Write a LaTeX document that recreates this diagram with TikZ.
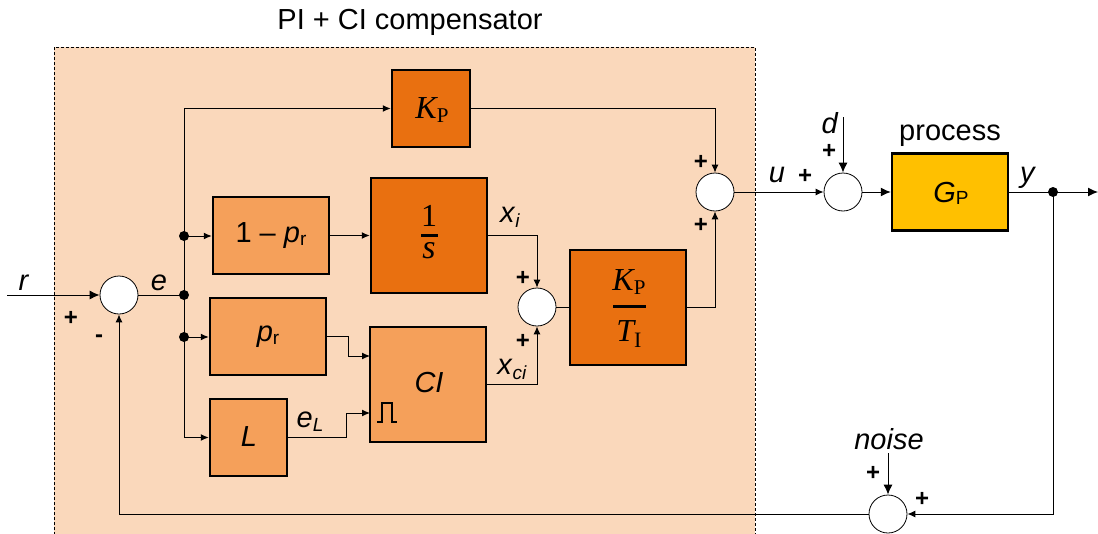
\documentclass[tikz,border=0pt]{standalone}
\usepackage{fontspec}
\setmainfont{Liberation Sans}
\newfontfamily\seriffam{Liberation Serif}
\usetikzlibrary{arrows.meta,calc}
\newcommand\lbl{\fontsize{29}{34}\selectfont}
\newcommand\subsz{\fontsize{19}{19}\selectfont}
\newcommand\plsz{\fontsize{24}{24}\selectfont\bfseries}
\definecolor{peach}{RGB}{250,216,187}
\definecolor{dorange}{RGB}{233,112,16}
\definecolor{lorange}{RGB}{245,160,90}
\definecolor{procc}{RGB}{255,192,0}
\begin{document}
\begin{tikzpicture}[x=1pt,y=-1pt,
  blk/.style={draw, line width=2.5pt, inner sep=0, minimum width=116pt, minimum height=77pt},
  dark/.style={blk, fill=dorange},
  light/.style={blk, fill=lorange},
  sumn/.style={circle, draw, line width=0.8pt, fill=white, minimum size=38pt, inner sep=0},
  conn/.style={line width=1pt},
  arr/.style={conn, -{Latex[length=8pt,width=7pt]}},
  bigarr/.style={conn, -{Latex[length=10pt,width=9pt]}},
  jdot/.style={circle, fill=black, minimum size=10pt, inner sep=0},
  txt/.style={inner sep=0, font=\lbl},
  pl/.style={inner sep=0, font=\plsz},
  fbar/.style={fill=black, inner sep=0, minimum height=3pt}]
\useasboundingbox (0,0) rectangle (1098,533);
\clip (0,0) rectangle (1098,533);
% compensator area
\fill[peach] (54,47) rectangle (755,545);
\draw[line width=1pt, dash pattern=on 3pt off 2pt] (54,545) -- (54,47) -- (755,47) -- (755,545);
\node[txt] (title) at (410,22) {PI + CI compensator};

% blocks
\node[dark, minimum width=78pt] (KP) at (431,108.5) {};
\node[light] (omp) at (271,235.5) {};
\node[light] (pr) at (268,336.5) {};
\node[light, minimum width=77pt] (L) at (248.5,437.5) {};
\node[dark, minimum height=115pt] (invs) at (429,235.5) {};
\node[light, minimum height=115pt] (CI) at (428,384.5) {};
\node[dark, minimum height=115pt] (KPTI) at (628,307.5) {};
\node[blk, fill=procc] (GP) at (950,192) {};

% block texts
\node[inner sep=0] (KPt) at (432,110) {\seriffam\fontsize{32}{32}\selectfont\itshape K\raisebox{-4pt}{\upshape\fontsize{21}{21}\selectfont P}};
\node[txt] (ompt) at (271,236) {1 – \textit{p}\raisebox{-3pt}{\subsz r}};
\node[txt] (prt) at (268,337) {\textit{p}\raisebox{-3pt}{\subsz r}};
\node[txt] (Lt) at (249,437) {\textit{L}};
\node[inner sep=0] (one) at (429,216) {\seriffam\fontsize{32}{32}\selectfont 1};
\node[fbar, minimum width=17pt] (bar1) at (429,235) {};
\node[inner sep=0] (sss) at (429,251) {\seriffam\fontsize{34}{34}\selectfont\itshape s};
\node[txt] (CIt) at (429,383) {\textit{CI}};
\node[inner sep=0] (KPn) at (629,282) {\seriffam\fontsize{32}{32}\selectfont\itshape K\raisebox{-4pt}{\upshape\fontsize{21}{21}\selectfont P}};
\node[fbar, minimum width=33pt] (bar2) at (629,306) {};
\node[inner sep=0] (TIt) at (629,334) {\seriffam\fontsize{32}{32}\selectfont\itshape T\raisebox{-6pt}{\upshape\fontsize{22}{22}\selectfont I}};
\node[txt] (GPt) at (951,193) {\textit{G}\raisebox{-2pt}{\subsz P}};
% pulse symbol
\draw[line width=1.2pt] (377,422) -- (382,422) -- (382,403) -- (392,403) -- (392,422) -- (397,422);

% summing junctions
\node[sumn] (s1) at (119,295) {};
\node[sumn] (s2) at (537,307) {};
\node[sumn] (s3) at (715,192) {};
\node[sumn] (s4) at (843,192) {};
\node[sumn] (s5) at (888,514) {};

% junction dots and coordinates
\node[jdot] (j1) at (184,236) {};
\node[jdot] (j0) at (184,295) {};
\node[jdot] (j2) at (184,337) {};
\node[jdot] (jy) at (1053,192) {};
\coordinate (rin) at (7,295);
\coordinate (ciA) at (370,356);
\coordinate (ciB) at (370,413);
\coordinate (din) at (843,117);
\coordinate (noisein) at (888,453);
\coordinate (yout) at (1098,192);

% connectors
\draw[bigarr] (rin) -- (s1.west);
\draw[conn] (s1.east) -- (j0.center);
\draw[arr] (j0.center) |- (KP.west);
\draw[arr] (j0.center) |- (L.west);
\draw[arr] (j1.center) -- (j1 -| omp.west);
\draw[arr] (j2.center) -- (j2 -| pr.west);
\draw[arr] (omp.east) -- (omp.east -| invs.west);
\draw[arr] (pr.east) -- ++(21,0) |- (ciA);
\draw[arr] (L.east) -- ++(58.5,0) |- (ciB);
\draw[arr] (invs.east) -| (s2.north);
\draw[arr] (CI.east) -| (s2.south);
\draw[conn] (s2.east) -- (s2.east -| KPTI.west);
\draw[arr] (KPTI.east) -| (s3.south);
\draw[arr] (KP.east) -| (s3.north);
\draw[arr] (s3.east) -- (s4.west);
\draw[bigarr] (din) -- (s4.north);
\draw[bigarr] (s4.east) -- (GP.west);
\draw[bigarr] (GP.east) -- (yout);
\draw[arr] (jy.center) |- (s5.east);
\draw[bigarr] (noisein) -- (s5.north);
\draw[arr] (s5.west) -| (s1.south);

% labels
\node[txt] (rl) at (24,283) {\textit{r}};
\node[txt] (el) at (159,283) {\textit{e}};
\node[pl] (p1) at (71,318) {+};
\node[pl] (m1) at (99,339) {-};
\node[txt] (eLl) at (310,422) {\textit{e}\raisebox{-4pt}{\subsz\textit{L}}};
\node[txt] (xil) at (510,217) {\textit{x}\raisebox{-5pt}{\subsz\textit{i}}};
\node[txt] (xcil) at (512,369) {\textit{x}\raisebox{-5pt}{\subsz\textit{ci}}};
\node[pl] (p2) at (523,278) {+};
\node[pl] (p3) at (523,341) {+};
\node[pl] (p4) at (701,162) {+};
\node[pl] (p5) at (701,225) {+};
\node[txt] (ul) at (777,175) {\textit{u}};
\node[pl] (p6) at (805,176) {+};
\node[txt] (dl) at (830,123) {\textit{d}};
\node[pl] (p7) at (829,151) {+};
\node[txt] (procl) at (950,136) {process};
\node[txt] (yl) at (1028,178) {\textit{y}};
\node[txt] (noisel) at (889,439) {\textit{noise}};
\node[pl] (p8) at (873,473) {+};
\node[pl] (p9) at (922,499) {+};
\end{tikzpicture}
\end{document}
